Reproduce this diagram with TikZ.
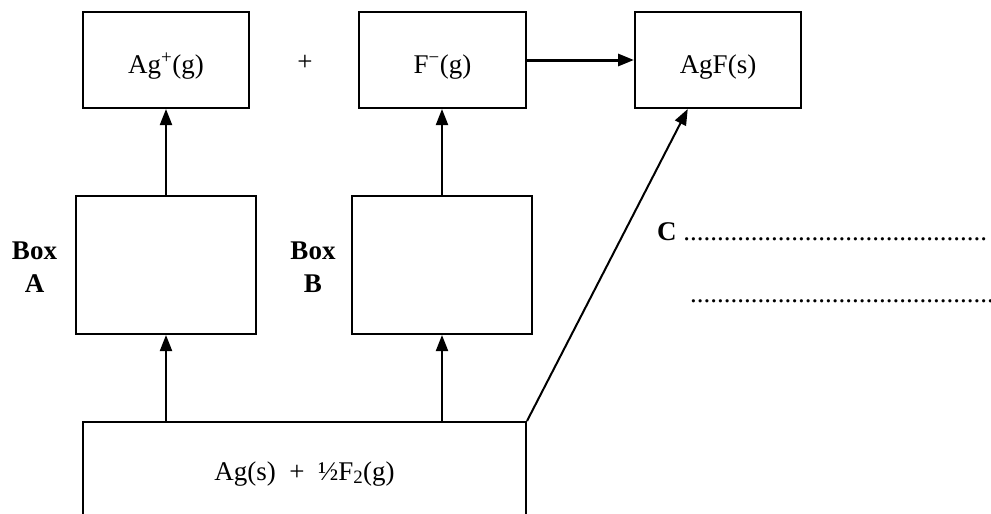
\documentclass[tikz,border=0pt]{standalone}
\usepackage{fontspec}
\setmainfont{Liberation Serif}
\usetikzlibrary{arrows.meta,calc}
\begin{document}
\begin{tikzpicture}[x=1pt,y=-1pt,
  font=\fontsize{27}{33}\selectfont,
  box/.style={draw, line width=2pt, inner sep=0pt, text height=26pt, text depth=0pt},
  conn/.style={line width=2pt, -{Triangle[length=16pt,width=12pt]}},
  lbl/.style={font=\fontsize{27}{33}\selectfont\bfseries, align=center, inner sep=0pt},
  dots/.style={anchor=base west, inner sep=0pt}]
\useasboundingbox (0,0) rectangle (991,514);
% top row
\node[box, minimum width=166pt, minimum height=96pt] (agp) at (166,60) {Ag\textsuperscript{+}(g)};
\node[box, minimum width=167pt, minimum height=96pt] (fm) at (442.5,60) {F\textsuperscript{−}(g)};
\node[box, minimum width=166pt, minimum height=96pt] (agf) at (718,60) {AgF(s)};
\node (plus) at (305,63) {+};
% middle boxes
\node[draw, line width=2pt, minimum width=180pt, minimum height=138pt] (boxa) at (166,265) {};
\node[draw, line width=2pt, minimum width=180pt, minimum height=138pt] (boxb) at (442,265) {};
\node[lbl] (la) at (34.5,267) {Box\\A};
\node[lbl] (lb) at (313,267) {Box\\B};
% bottom box (runs off the page)
\node[draw, line width=2pt, inner sep=0pt, text height=0pt, text depth=24pt,
      minimum width=443pt, minimum height=140pt] (bot) at (304.5,492) {Ag(s)\ \ +\ \ ½F\textsubscript{2}(g)};
% connectors
\draw[conn] (bot.north -| boxa.south) -- (boxa.south);
\draw[conn] (bot.north -| boxb.south) -- (boxb.south);
\draw[conn] (boxa.north) -- (agp.south);
\draw[conn] (boxb.north) -- (boxb.north |- fm.south);
\draw[conn, line width=3pt] (fm.east) -- (agf.west);
\coordinate (tip) at ($(agf.south west)!0.32!(agf.south east)$);
\draw[conn] (bot.north east) -- (tip);
% answer lines
\node[dots] (c) at (657,240) {\textbf{C} .............................................};
\node[dots] (d2) at (690,302) {..............................................};
\end{tikzpicture}
\end{document}
